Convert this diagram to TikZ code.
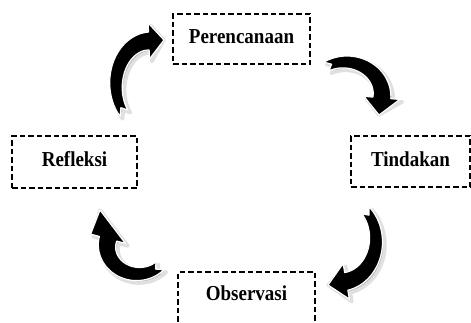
\documentclass[tikz,border=0pt]{standalone}
\usepackage{fontspec}
\setmainfont{Liberation Serif}
\usetikzlibrary{calc}

% Thick curved block arrow along an ellipse: centre (#1,#2), radii #3/#4,
% tail angle #5, head-base angle #6, tail width #7, head-end width #8, tip #9.
\newcommand\arrowoutline[1]{%
  \filldraw[#1]
    plot[domain=\aT:\aH, samples=40]
      ({\cx+(\rx+0.5*(\wT+(\wH-\wT)*(\x-(\aT))/(\aH-(\aT))))*cos(\x)},
       {\cy+(\ry+0.5*(\wT+(\wH-\wT)*(\x-(\aT))/(\aH-(\aT))))*sin(\x)})
    -- ({\cx+(\rx+\wH)*cos(\aH)},{\cy+(\ry+\wH)*sin(\aH)})
    -- (tipc)
    -- ({\cx+(\rx-\wH)*cos(\aH)},{\cy+(\ry-\wH)*sin(\aH)})
    -- plot[domain=\aH:\aT, samples=40]
      ({\cx+(\rx-0.5*(\wT+(\wH-\wT)*(\x-(\aT))/(\aH-(\aT))))*cos(\x)},
       {\cy+(\ry-0.5*(\wT+(\wH-\wT)*(\x-(\aT))/(\aH-(\aT))))*sin(\x)})
    -- ({\cx+\rx*cos(\aN)},{\cy+\ry*sin(\aN)}) -- cycle;}
\newcommand\bentarrow[9]{%
  \def\cx{#1}\def\cy{#2}\def\rx{#3}\def\ry{#4}%
  \def\aT{#5}\def\aH{#6}\def\wT{#7}\def\wH{#8}%
  \pgfmathsetmacro\aN{#5+0.07*(#6-(#5))}%
  \coordinate (tipc) at #9;
  \arrowoutline{arrowshadow}
  \arrowoutline{arrowbody}}

\tikzset{
  stagebox/.style={draw=black, line width=1.4pt, dash pattern=on 5.5pt off 3pt,
    fill=white, inner sep=0pt},
  stagetext/.style={font=\bfseries\fontsize{19}{22}\selectfont, text=black},
  arrowshadow/.style={shift={(2.5,2.5)}, fill=black!28, draw=black!12,
    line width=3.5pt, line join=round},
  arrowbody/.style={fill=black, draw=white, line width=1.2pt, line join=round},
}

\begin{document}
\begin{tikzpicture}[x=1pt, y=-1pt]
\useasboundingbox (0,0) rectangle (471,322);
\clip (0,0) rectangle (471,322);

% the four stages of the cycle
\node[stagebox, minimum width=137, minimum height=50] (planbox) at (241.5,39) {};
\node[stagetext] (plan) at (241.5,37) {\scalebox{1}[1.12]{Perencanaan}};

\node[stagebox, minimum width=119, minimum height=51] (actbox) at (410.5,161.5) {};
\node[stagetext] (act) at (410.5,159) {\scalebox{1}[1.12]{Tindakan}};

\node[stagebox, minimum width=125, minimum height=52] (reflbox) at (74.5,162) {};
\node[stagetext] (refl) at (74.5,159) {\scalebox{1}[1.12]{Refleksi}};

\node[stagebox, minimum width=137, minimum height=56] (obsbox) at (246.5,300) {};
\node[stagetext] (obs) at (246.5,293) {\scalebox{1}[1.12]{Observasi}};

% curved arrows between the stages
\bentarrow{150}{85}{34}{44}{140}{268}{10}{18}{(164,40)}
\bentarrow{345}{95}{37}{33}{-120}{5}{10}{18}{(379,115)}
\bentarrow{340}{240}{36}{42}{-45}{80}{10}{18}{(328,285)}
\bentarrow{138}{246}{31}{28}{45}{195}{11}{18}{(100,210)}
\end{tikzpicture}
\end{document}
